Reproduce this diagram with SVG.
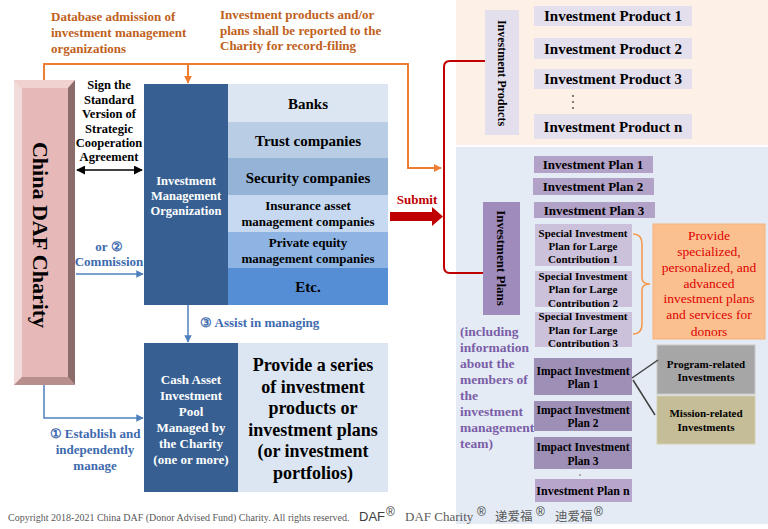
<svg xmlns="http://www.w3.org/2000/svg" width="768" height="529" viewBox="0 0 768 529">
<defs>
<style>
.s{font-family:"Liberation Serif","Times New Roman",serif;font-weight:bold}
.r{font-family:"Liberation Serif","Times New Roman",serif}
.c{text-anchor:middle}
.w{fill:#ffffff}
.k{fill:#000000}
.or{fill:#c0611b}
.bl{fill:#3d6aad}
.pu{fill:#7b5ea7}
.gy{fill:#595959}
</style>
<marker id="ao" viewBox="0 0 10 10" refX="9" refY="5" markerWidth="4" markerHeight="4" orient="auto"><path d="M0,0L10,5L0,10z" fill="#ed7d31"/></marker>
<marker id="ab" viewBox="0 0 10 10" refX="9" refY="5" markerWidth="5" markerHeight="5" orient="auto"><path d="M0,0L10,5L0,10z" fill="#4f81bd"/></marker>
<marker id="ak" viewBox="0 0 10 10" refX="9" refY="5" markerWidth="6" markerHeight="6" orient="auto-start-reverse"><path d="M0,0L10,5L0,10z" fill="#000"/></marker>
</defs>
<rect width="768" height="529" fill="#ffffff"/>

<!-- right panels -->
<rect x="456" y="0" width="312" height="145" fill="#fdf0e6"/>
<rect x="456" y="147" width="312" height="377" fill="#e4ebf5"/>

<!-- China DAF Charity -->
<g id="china-daf">
<rect x="14" y="80" width="61" height="305" fill="#e6b9b8"/>
<polygon points="14,80 75,80 68,88 22,88" fill="#f0d2d1"/>
<polygon points="14,80 22,88 22,377 14,385" fill="#f2dcdb"/>
<polygon points="75,80 75,385 68,377 68,88" fill="#8c6b6b"/>
<polygon points="14,385 75,385 68,377 22,377" fill="#b98f8e"/>
<text class="s c k" x="40" y="235" font-size="22" dominant-baseline="central" transform="rotate(90 40 235)">China DAF Charity</text>
</g>

<!-- labels top -->
<g id="label-database" class="s or" font-size="13">
<text x="51" y="21">Database admission of</text>
<text x="51" y="37">investment management</text>
<text x="51" y="53">organizations</text>
</g>
<g id="label-record" class="s or" font-size="13">
<text x="220" y="19">Investment products and/or</text>
<text x="220" y="35">plans shall be reported to the</text>
<text x="220" y="50">Charity  for record-filing</text>
</g>

<g id="label-sign" class="s c k" font-size="12.5">
<text x="109" y="89">Sign the</text>
<text x="109" y="104">Standard</text>
<text x="109" y="118">Version of</text>
<text x="109" y="133">Strategic</text>
<text x="109" y="147">Cooperation</text>
<text x="109" y="161">Agreement</text>
</g>
<g id="label-commission" class="s c bl" font-size="13">
<text x="109" y="251">or ②</text>
<text x="109" y="266">Commission</text>
</g>
<g id="label-assist" class="s bl" font-size="13">
<text x="200" y="327">③ Assist in managing</text>
</g>
<g id="label-establish" class="s c bl" font-size="13">
<text x="95" y="438">① Establish and</text>
<text x="95" y="454">independently</text>
<text x="95" y="470">manage</text>
</g>

<!-- Investment Management Organization -->
<g id="imo">
<rect x="144" y="84" width="84" height="221" fill="#375f91"/>
<text class="s c w" x="186" y="185" font-size="12.5">Investment</text>
<text class="s c w" x="186" y="200" font-size="12.5">Management</text>
<text class="s c w" x="186" y="215" font-size="12.5">Organization</text>
</g>

<g id="companies">
<rect x="228" y="84" width="160" height="38" fill="#dce6f2"/>
<rect x="228" y="122" width="160" height="36" fill="#b9cde5"/>
<rect x="228" y="158" width="160" height="37" fill="#95b3d7"/>
<rect x="228" y="195" width="160" height="37" fill="#c6d9f1"/>
<rect x="228" y="232" width="160" height="36" fill="#8eb4e3"/>
<rect x="228" y="268" width="160" height="37" fill="#558ed5"/>
<g class="s c k">
<text x="308" y="109" font-size="15">Banks</text>
<text x="308" y="146" font-size="15">Trust  companies</text>
<text x="308" y="183" font-size="15">Security  companies</text>
<text x="308" y="210" font-size="13">Insurance asset</text>
<text x="308" y="226" font-size="13">management companies</text>
<text x="308" y="247" font-size="13">Private equity</text>
<text x="308" y="263" font-size="13">management companies</text>
<text x="308" y="292" font-size="15">Etc.</text>
</g>
</g>

<!-- Cash pool -->
<g id="cash-pool">
<rect x="144" y="343" width="94" height="149" fill="#375f91"/>
<g class="s c w" font-size="13">
<text x="191" y="384">Cash Asset</text>
<text x="191" y="400">Investment</text>
<text x="191" y="416">Pool</text>
<text x="191" y="432">Managed by</text>
<text x="191" y="448">the Charity</text>
<text x="191" y="464">(one or more)</text>
</g>
</g>
<g id="provide-series">
<rect x="238" y="343" width="150" height="149" fill="#dce6f2"/>
<g class="s c k" font-size="18">
<text x="313" y="371">Provide a series</text>
<text x="313" y="393">of investment</text>
<text x="313" y="414">products or</text>
<text x="313" y="436">investment plans</text>
<text x="313" y="457">(or investment</text>
<text x="313" y="479">portfolios)</text>
</g>
</g>

<!-- Submit -->
<g id="submit">
<text class="s c" x="417" y="204" font-size="13" fill="#c00000">Submit</text>
<polygon points="390,212 432,212 432,207 443,216.5 432,226 432,221 390,221" fill="#c00000"/>
</g>

<!-- Investment products -->
<g id="investment-products">
<rect x="485" y="10" width="34" height="125" fill="#e4dfec"/>
<text class="s c k" x="502" y="73" font-size="12" dominant-baseline="central" transform="rotate(90 502 73)">Investment Products</text>
</g>
<g id="products" class="s c k" font-size="15">
<rect x="534" y="6" width="158" height="20" fill="#e4dfec"/>
<rect x="534" y="38" width="158" height="21" fill="#e4dfec"/>
<rect x="534" y="69" width="158" height="20" fill="#e4dfec"/>
<rect x="534" y="114" width="158" height="25" fill="#e4dfec"/>
<text x="613" y="21">Investment  Product  1</text>
<text x="613" y="54">Investment  Product  2</text>
<text x="613" y="84">Investment  Product  3</text>
<text x="613" y="132">Investment  Product  n</text>
<circle cx="573" cy="96" r="0.9" fill="#444"/>
<circle cx="573" cy="102" r="0.9" fill="#444"/>
<circle cx="573" cy="108" r="0.9" fill="#444"/>
</g>

<!-- Investment plans -->
<g id="investment-plans">
<rect x="483" y="202" width="37" height="113" fill="#a08bbd"/>
<text class="s c k" x="501" y="258" font-size="13" dominant-baseline="central" transform="rotate(90 501 258)">Investment Plans</text>
</g>
<g id="label-including" class="s pu" font-size="13.5">
<text x="460" y="336">(including</text>
<text x="460" y="352">information</text>
<text x="460" y="368">about the</text>
<text x="460" y="384">members of</text>
<text x="460" y="400">the</text>
<text x="460" y="416">investment</text>
<text x="460" y="432">management</text>
<text x="460" y="448">team)</text>
</g>

<g id="plans">
<rect x="534" y="156" width="119" height="17" fill="#b3a2c7"/>
<rect x="533" y="178" width="121" height="17" fill="#b3a2c7"/>
<rect x="534" y="202" width="121" height="16" fill="#b3a2c7"/>
<g class="s c k" font-size="13">
<text x="593" y="169">Investment Plan 1</text>
<text x="593" y="191">Investment Plan 2</text>
<text x="594" y="215">Investment Plan 3</text>
</g>
<rect x="535" y="224" width="97" height="42" fill="#ccc1da"/>
<rect x="535" y="271" width="97" height="36" fill="#ccc1da"/>
<rect x="535" y="312" width="97" height="35" fill="#ccc1da"/>
<g class="s c k" font-size="11">
<text x="583" y="237">Special Investment</text>
<text x="583" y="250">Plan for Large</text>
<text x="583" y="263">Contribution  1</text>
<text x="583" y="280">Special Investment</text>
<text x="583" y="293">Plan for Large</text>
<text x="583" y="307">Contribution  2</text>
<text x="583" y="320">Special Investment</text>
<text x="583" y="334">Plan for Large</text>
<text x="583" y="347">Contribution  3</text>
</g>
<rect x="534" y="358" width="98" height="37" fill="#9e8fb6"/>
<rect x="534" y="401" width="98" height="30" fill="#9e8fb6"/>
<rect x="534" y="437" width="98" height="32" fill="#9e8fb6"/>
<rect x="535" y="479" width="97" height="23" fill="#b8a5cc"/>
<g class="s c k" font-size="11.5">
<text x="583" y="375">Impact Investment</text>
<text x="583" y="388">Plan 1</text>
<text x="583" y="414">Impact Investment</text>
<text x="583" y="427">Plan 2</text>
<text x="583" y="451">Impact Investment</text>
<text x="583" y="465">Plan 3</text>
<text x="583" y="495" font-size="12">Investment Plan n</text>
</g>
<circle cx="580" cy="475" r="0.7" fill="#444"/>
</g>

<g id="provide-specialized">
<rect x="653" y="224" width="112" height="115" fill="#fac090" stroke="#f8b27a" stroke-width="1"/>
<g class="r c" font-size="13.5" fill="#e00000">
<text x="709" y="240">Provide</text>
<text x="709" y="256">specialized,</text>
<text x="709" y="272">personalized, and</text>
<text x="709" y="288">advanced</text>
<text x="709" y="303">investment plans</text>
<text x="709" y="319">and services  for</text>
<text x="709" y="336">donors</text>
</g>
</g>

<g id="program-related">
<rect x="657" y="345" width="98" height="49" fill="#a6a6a6" stroke="#c8c8c8" stroke-width="1"/>
<text class="s c k" x="706" y="368" font-size="11">Program-related</text>
<text class="s c k" x="706" y="381" font-size="11">Investments</text>
</g>
<g id="mission-related">
<rect x="657" y="396" width="98" height="48" fill="#c4bd97" stroke="#d6d0b0" stroke-width="1"/>
<text class="s c k" x="706" y="417" font-size="11">Mission-related</text>
<text class="s c k" x="706" y="431" font-size="11">Investments</text>
</g>

<!-- copyright -->
<g id="copyright">
<text class="r gy" x="8" y="521" font-size="10">Copyright 2018-2021  China DAF (Donor Advised Fund) Charity. All rights reserved.</text>
<text x="359" y="521" font-size="13" fill="#404040" font-family="Liberation Sans, Arial, sans-serif">DAF</text>
<text x="386" y="516" font-size="12" fill="#404040" font-family="Liberation Sans, Arial, sans-serif">®</text>
<text class="r" x="405" y="521" font-size="13" fill="#595959">DAF Charity</text>
<text x="477" y="516" font-size="12" fill="#404040" font-family="Liberation Sans, Arial, sans-serif">®</text>
<text x="495" y="521" font-size="12.5" fill="#595959" font-family="Liberation Serif, Noto Sans CJK SC, serif">递爱福</text>
<text x="536" y="516" font-size="12" fill="#404040" font-family="Liberation Sans, Arial, sans-serif">®</text>
<text x="555" y="521" font-size="12.5" fill="#595959" font-family="Liberation Serif, Noto Sans CJK SC, serif">迪爱福</text>
<text x="594" y="516" font-size="12" fill="#404040" font-family="Liberation Sans, Arial, sans-serif">®</text>
</g>

<!-- connectors -->
<g id="connectors" fill="none">
<path d="M44,80 L44,64 L408,64 L408,168 L441,168" stroke="#ed7d31" stroke-width="2" marker-end="url(#ao)"/>
<path d="M188,64 L188,83" stroke="#ed7d31" stroke-width="2" marker-end="url(#ao)"/>
<path d="M77,170 L142,170" stroke="#000" stroke-width="1.5" marker-start="url(#ak)" marker-end="url(#ak)"/>
<path d="M76,274 L143,274" stroke="#4f81bd" stroke-width="1.5" marker-end="url(#ab)"/>
<path d="M188,305 L188,342" stroke="#4f81bd" stroke-width="1.5" marker-end="url(#ab)"/>
<path d="M44,385 L44,418 L143,418" stroke="#4f81bd" stroke-width="1.5" marker-end="url(#ab)"/>
<path d="M485,61 L450,61 Q444,61 444,67 L444,267 Q444,273 450,273 L483,273" stroke="#c00000" stroke-width="2"/>
<path d="M633,234 Q642,234 642,244 L642,278 Q642,284 650,284 Q642,284 642,290 L642,324 Q642,334 633,334" stroke="#f79646" stroke-width="1.5"/>
<path d="M632,378 L658,360" stroke="#404040" stroke-width="1.5"/>
<path d="M633,380 L655,415" stroke="#404040" stroke-width="1.5"/>
</g>
</svg>
